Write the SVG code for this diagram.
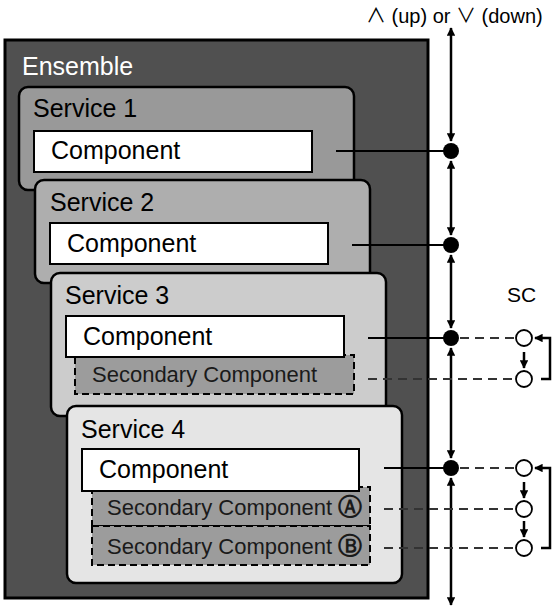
<svg xmlns="http://www.w3.org/2000/svg" width="557" height="610" viewBox="0 0 557 610">
<style>
text{font-family:"Liberation Sans",Arial,sans-serif;fill:#000}
.svc{stroke:#000;stroke-width:2.5}
.comp{fill:#fff;stroke:#000;stroke-width:2}
.sec{fill:#9c9c9c;stroke:#000;stroke-width:2;stroke-dasharray:7,4}
.t1{font-size:25px}
.t2{font-size:22px;fill:#1a1a1a}
.cl{font-family:"DejaVu Sans",sans-serif;font-weight:bold;font-size:24px}
.op{font-family:"Noto Sans CJK JP","DejaVu Sans",sans-serif;font-size:20px}
.ln{stroke:#000;stroke-width:2.5;fill:none}
.dl{stroke:#333;stroke-width:2;stroke-dasharray:9,6;fill:none}
.dot{fill:#000}
.oc{fill:#fff;stroke:#000;stroke-width:1.8}
</style>
<defs>
<marker id="ah" viewBox="0 0 10 10" refX="9" refY="5" markerWidth="3.6" markerHeight="3.4" orient="auto-start-reverse" markerUnits="strokeWidth">
<path d="M0,0 L10,5 L0,10 Z" fill="#000"/>
</marker>
</defs>
<g id="ensemble">
<rect x="5" y="40" width="423" height="558" fill="#505050" stroke="#000" stroke-width="3"/>
<text x="22" y="75" class="t1" style="fill:#fff">Ensemble</text>
</g>
<g id="service1">
<rect class="svc" x="19" y="87" width="335" height="103" rx="9" fill="#999999"/>
<text x="33" y="117" class="t1">Service 1</text>
<rect class="comp" x="34" y="131" width="278" height="41"/>
<text x="51" y="159" class="t1">Component</text>
</g>
<g id="service2">
<rect class="svc" x="35" y="180" width="335" height="103" rx="9" fill="#aeaeae"/>
<text x="50" y="211" class="t1">Service 2</text>
<rect class="comp" x="50" y="223" width="278" height="41"/>
<text x="67" y="252" class="t1">Component</text>
</g>
<g id="service3">
<rect class="svc" x="51" y="273" width="335" height="143" rx="9" fill="#cccccc"/>
<text x="65" y="304" class="t1">Service 3</text>
<rect class="sec" x="75" y="355" width="279" height="39"/>
<text x="92" y="382" class="t2">Secondary Component</text>
<rect class="comp" x="66" y="316" width="278" height="41"/>
<text x="83" y="345" class="t1">Component</text>
</g>
<g id="service4">
<rect class="svc" x="67" y="406" width="335" height="177" rx="9" fill="#e5e5e5"/>
<text x="81" y="438" class="t1">Service 4</text>
<rect class="sec" x="92" y="487" width="278" height="39"/>
<text x="107" y="515" class="t2">Secondary Component <tspan class="cl">Ⓐ</tspan></text>
<rect class="sec" x="92" y="526" width="278" height="39"/>
<text x="107" y="554" class="t2">Secondary Component <tspan class="cl">Ⓑ</tspan></text>
<rect class="comp" x="82" y="449" width="277" height="42"/>
<text x="99" y="478" class="t1">Component</text>
</g>
<g id="labels">
<text x="366" y="23" font-size="20"><tspan class="op">∧</tspan> (up) or <tspan class="op">∨</tspan> (down)</text>
<text x="507" y="302" font-size="21">SC</text>
</g>
<g id="connectors">
<line class="ln" x1="451" y1="28" x2="451" y2="141" marker-start="url(#ah)" marker-end="url(#ah)"/>
<line class="ln" x1="451" y1="161" x2="451" y2="235" marker-start="url(#ah)" marker-end="url(#ah)"/>
<line class="ln" x1="451" y1="255" x2="451" y2="328" marker-start="url(#ah)" marker-end="url(#ah)"/>
<line class="ln" x1="451" y1="348" x2="451" y2="458" marker-start="url(#ah)" marker-end="url(#ah)"/>
<line class="ln" x1="451" y1="478" x2="451" y2="605" marker-start="url(#ah)" marker-end="url(#ah)"/>
<line x1="336" y1="151" x2="451" y2="151" stroke="#000" stroke-width="2"/>
<line x1="352" y1="245" x2="451" y2="245" stroke="#000" stroke-width="2"/>
<line x1="368" y1="338" x2="451" y2="338" stroke="#000" stroke-width="2"/>
<line x1="384" y1="468" x2="451" y2="468" stroke="#000" stroke-width="2"/>
<line class="dl" x1="460" y1="338" x2="516" y2="338"/>
<line class="dl" x1="368" y1="379" x2="516" y2="379"/>
<line class="dl" x1="460" y1="468" x2="516" y2="468"/>
<line class="dl" x1="384" y1="509" x2="516" y2="509"/>
<line class="dl" x1="384" y1="548" x2="516" y2="548"/>
<circle class="dot" cx="451" cy="151" r="8"/>
<circle class="dot" cx="451" cy="245" r="8"/>
<circle class="dot" cx="451" cy="338" r="8"/>
<circle class="dot" cx="451" cy="468" r="8"/>
<circle class="oc" cx="524" cy="338" r="8"/>
<circle class="oc" cx="524" cy="379" r="8"/>
<circle class="oc" cx="524" cy="468" r="8"/>
<circle class="oc" cx="524" cy="509" r="8"/>
<circle class="oc" cx="524" cy="548" r="8"/>
<line class="ln" x1="524" y1="352" x2="524" y2="368" stroke-width="2" marker-end="url(#ah)"/>
<line class="ln" x1="524" y1="482" x2="524" y2="498" stroke-width="2" marker-end="url(#ah)"/>
<line class="ln" x1="524" y1="521" x2="524" y2="537" stroke-width="2" marker-end="url(#ah)"/>
<polyline class="ln" points="541,379 550,379 550,338 535,338" marker-end="url(#ah)"/>
<polyline class="ln" points="541,548 550,548 550,468 535,468" marker-end="url(#ah)"/>
</g>
</svg>
